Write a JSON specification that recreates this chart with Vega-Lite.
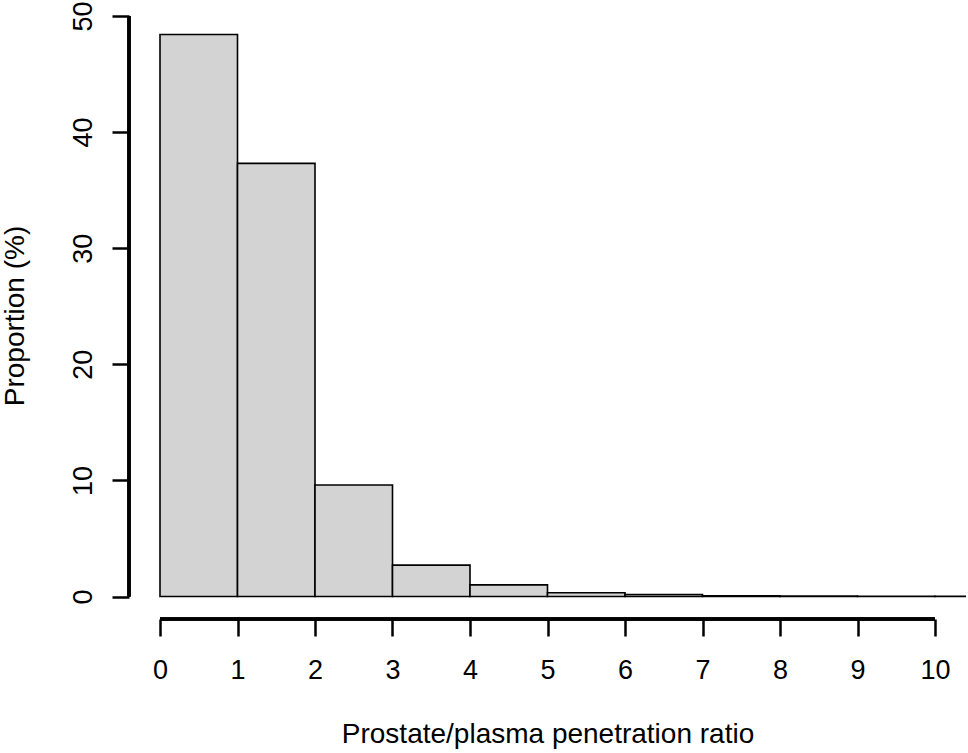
{
  "$schema": "https://vega.github.io/schema/vega-lite/v6.json",
  "width": 837,
  "height": 607,
  "autosize": {"type": "none"},
  "padding": {"left": 129, "top": 12, "right": 2, "bottom": 134},
  "background": "white",
  "config": {
    "view": {"stroke": null},
    "font": "Liberation Sans",
    "axis": {"grid": false, "domain": false, "tickColor": "black", "tickWidth": 2.5, "tickSize": 17, "labelFont": "Liberation Sans", "labelFontSize": 27, "labelColor": "black", "titleFont": "Liberation Sans", "titleFontSize": 28, "titleFontWeight": "normal", "titleColor": "black", "format": "d"}
  },
  "data": {
    "values": [
      {"bin_start": 0, "bin_end": 1, "proportion": 48.4},
      {"bin_start": 1, "bin_end": 2, "proportion": 37.3},
      {"bin_start": 2, "bin_end": 3, "proportion": 9.6},
      {"bin_start": 3, "bin_end": 4, "proportion": 2.7},
      {"bin_start": 4, "bin_end": 5, "proportion": 1.0},
      {"bin_start": 5, "bin_end": 6, "proportion": 0.33},
      {"bin_start": 6, "bin_end": 7, "proportion": 0.17},
      {"bin_start": 7, "bin_end": 8, "proportion": 0.07},
      {"bin_start": 8, "bin_end": 9, "proportion": 0.03},
      {"bin_start": 9, "bin_end": 10, "proportion": 0.02},
      {"bin_start": 10, "bin_end": 11, "proportion": 0.01}
    ]
  },
  "layer": [
    {
      "mark": {"type": "bar", "fill": "#D3D3D3", "stroke": "black", "strokeWidth": 1.6, "clip": true},
      "encoding": {
        "x": {
          "field": "bin_start", "type": "quantitative",
          "scale": {"domain": [-0.4, 10.4], "nice": false, "zero": false},
          "axis": {"values": [0,1,2,3,4,5,6,7,8,9,10], "format": "d", "title": "Prostate/plasma penetration ratio", "labelPadding": 21, "labelAngle": 0, "labelAlign": "center", "labelBaseline": "top", "titleBaseline": "alphabetic", "titleY": 123, "titlePadding": 0}
        },
        "x2": {"field": "bin_end"},
        "y": {
          "field": "proportion", "type": "quantitative",
          "scale": {"domain": [-1.936, 50.336], "nice": false, "zero": false},
          "axis": {"values": [0,10,20,30,40,50], "format": "d", "title": "Proportion (%)", "labelAngle": -90, "labelAlign": "center", "labelBaseline": "alphabetic", "labelPadding": 21, "titleAngle": -90, "titleAlign": "center", "titleBaseline": "alphabetic", "titleX": -106, "titleY": 303.5}
        },
        "y2": {"datum": 0}
      }
    },
    {
      "mark": {"type": "rule", "stroke": "black", "strokeWidth": 2.5},
      "encoding": {
        "x": {"datum": 0},
        "x2": {"datum": 10},
        "y": {"datum": -1.936}
      }
    },
    {
      "mark": {"type": "rule", "stroke": "black", "strokeWidth": 2.5},
      "encoding": {
        "x": {"datum": -0.4},
        "y": {"datum": 0},
        "y2": {"datum": 50}
      }
    }
  ]
}
